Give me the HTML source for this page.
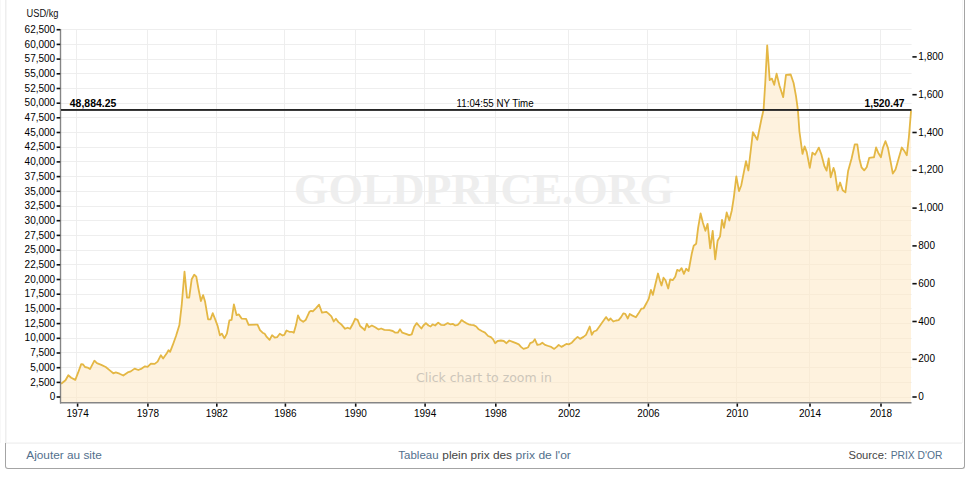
<!DOCTYPE html>
<html><head><meta charset="utf-8"><title>Gold price chart</title>
<style>
html,body{margin:0;padding:0;background:#fff;}
body{width:974px;height:478px;position:relative;overflow:hidden;font-family:"Liberation Sans",Arial,sans-serif;}
svg{position:absolute;left:0;top:0;}
.foot{position:absolute;left:5px;top:443px;width:958px;height:25px;border:1px solid #a4a4a4;border-top:none;border-radius:0 0 3px 3px;}
</style></head><body>

<svg width="974" height="478" viewBox="0 0 974 478">
<rect x="0" y="0" width="1" height="443" fill="#f8f8f8"/>
<rect x="5" y="0" width="1.5" height="443" fill="#eeeeee"/>
<rect x="6" y="442.5" width="956" height="1.2" fill="#eeeeee"/>
<rect x="962" y="0" width="1" height="443" fill="#f6f6f6"/>
<rect x="964" y="0" width="1" height="466" fill="#a4a4a4"/>
<path d="M60.5 397.5H911.5 M60.5 382.5H911.5 M60.5 367.5H911.5 M60.5 352.5H911.5 M60.5 338.5H911.5 M60.5 323.5H911.5 M60.5 308.5H911.5 M60.5 294.5H911.5 M60.5 279.5H911.5 M60.5 264.5H911.5 M60.5 250.5H911.5 M60.5 235.5H911.5 M60.5 220.5H911.5 M60.5 206.5H911.5 M60.5 191.5H911.5 M60.5 176.5H911.5 M60.5 161.5H911.5 M60.5 147.5H911.5 M60.5 132.5H911.5 M60.5 117.5H911.5 M60.5 103.5H911.5 M60.5 88.5H911.5 M60.5 73.5H911.5 M60.5 59.5H911.5 M60.5 44.5H911.5 M60.5 29.5H911.5 M76.5 29.5V402.5 M147.5 29.5V402.5 M216.5 29.5V402.5 M284.5 29.5V402.5 M355.5 29.5V402.5 M424.5 29.5V402.5 M495.5 29.5V402.5 M568.5 29.5V402.5 M647.5 29.5V402.5 M736.5 29.5V402.5 M809.5 29.5V402.5 M880.5 29.5V402.5" stroke="#f0f0f0" stroke-width="1" fill="none"/>
<text x="294" y="204" font-family="Liberation Serif, serif" font-weight="bold" font-size="44.5" fill="#eeeeee" textLength="380" lengthAdjust="spacingAndGlyphs">GOLDPRICE.ORG</text>
<path d="M60.5 397.5H911.5 M60.5 382.5H911.5 M60.5 367.5H911.5 M60.5 352.5H911.5 M60.5 338.5H911.5 M60.5 323.5H911.5 M60.5 308.5H911.5 M60.5 294.5H911.5 M60.5 279.5H911.5 M60.5 264.5H911.5 M60.5 250.5H911.5 M60.5 235.5H911.5 M60.5 220.5H911.5 M60.5 206.5H911.5 M60.5 191.5H911.5 M60.5 176.5H911.5 M60.5 161.5H911.5 M60.5 147.5H911.5 M60.5 132.5H911.5 M60.5 117.5H911.5 M60.5 103.5H911.5 M60.5 88.5H911.5 M60.5 73.5H911.5 M60.5 59.5H911.5 M60.5 44.5H911.5 M60.5 29.5H911.5 M76.5 29.5V402.5 M147.5 29.5V402.5 M216.5 29.5V402.5 M284.5 29.5V402.5 M355.5 29.5V402.5 M424.5 29.5V402.5 M495.5 29.5V402.5 M568.5 29.5V402.5 M647.5 29.5V402.5 M736.5 29.5V402.5 M809.5 29.5V402.5 M880.5 29.5V402.5" stroke="#ececec" stroke-width="1" fill="none" opacity="0.6"/>
<polygon points="61.0,402.5 61.0,383.5 61.8,383.3 65.5,380.2 68.3,375.2 71.2,377.7 75.3,379.9 78.1,372.7 81.2,364.1 83.1,364.5 85.0,367.0 87.5,367.6 90.0,369.1 94.4,360.7 96.9,363.2 101.3,364.9 105.7,367.0 109.5,370.1 113.3,373.3 115.8,372.4 119.5,373.7 123.3,375.5 127.7,372.4 130.8,371.4 134.6,368.6 138.3,370.0 141.7,368.6 145.0,366.3 147.6,366.9 150.9,363.6 154.7,363.9 157.6,361.6 160.9,355.2 163.1,358.6 166.8,353.2 168.5,350.2 170.1,351.9 172.7,345.2 176.0,336.0 179.4,325.1 181.7,305.2 184.5,271.7 187.0,297.7 189.2,297.7 191.7,279.2 194.2,274.7 196.3,276.7 198.4,288.5 200.9,301.0 203.1,295.1 205.1,301.8 208.1,319.4 210.5,319.4 212.7,313.2 215.2,319.4 217.7,326.1 219.9,335.3 221.9,333.6 224.4,338.3 226.9,333.6 229.4,320.3 231.6,319.9 233.9,304.4 236.6,315.2 238.9,314.4 241.6,318.6 246.1,318.9 248.6,324.9 257.5,324.6 260.0,330.2 262.6,332.7 264.7,333.8 266.7,336.9 269.6,339.9 272.1,335.2 274.8,337.7 277.1,337.2 279.8,333.8 282.6,335.5 284.3,334.9 286.5,330.5 289.3,331.8 291.8,331.8 293.8,332.7 296.0,325.1 298.0,315.4 300.2,319.8 303.2,321.8 305.6,320.1 309.4,311.8 311.1,310.9 312.8,311.4 315.8,308.4 319.1,304.7 322.0,312.6 326.2,311.8 328.3,313.4 331.4,316.4 333.7,321.5 335.9,318.8 338.4,322.1 341.7,324.8 345.1,328.8 347.6,327.7 350.1,328.8 352.6,324.3 355.1,318.8 357.6,319.8 360.1,326.0 362.7,328.2 364.7,330.2 366.8,323.8 368.8,327.2 371.9,325.5 375.2,327.2 378.6,329.5 381.1,328.5 384.4,329.8 389.4,330.2 392.8,331.0 395.3,332.7 397.8,332.7 400.0,329.3 402.3,332.7 405.9,333.8 409.2,335.2 411.7,334.4 414.2,326.8 416.7,323.1 419.2,326.0 421.4,328.5 423.4,325.5 425.9,323.1 428.5,325.5 430.6,326.5 432.6,324.3 435.1,325.5 438.2,322.6 441.0,324.8 444.4,325.1 447.7,323.1 450.2,324.3 452.7,323.8 455.2,325.5 457.7,324.8 459.9,322.6 461.6,320.1 463.6,321.5 466.1,323.1 468.6,324.3 471.1,324.8 473.6,325.1 476.2,326.5 478.7,329.3 481.7,331.0 485.0,332.6 488.1,336.0 490.9,337.2 493.1,339.3 495.1,343.2 497.6,341.0 500.9,340.5 503.8,341.0 506.5,343.2 509.3,340.5 512.7,341.8 516.0,343.2 518.8,344.4 521.0,346.9 523.5,348.9 526.0,348.2 528.2,347.2 530.2,343.2 532.7,342.2 534.9,339.3 537.3,344.9 539.9,344.4 542.3,342.7 545.0,344.9 548.3,346.0 551.2,346.9 554.2,348.9 556.7,346.9 558.7,344.9 561.4,346.9 563.7,345.6 566.4,343.9 568.7,344.4 571.8,342.7 574.8,339.4 577.6,336.9 580.1,338.9 583.5,336.9 586.0,334.9 587.7,331.0 589.7,326.5 591.8,334.9 593.8,331.5 596.5,330.5 599.4,326.5 602.2,322.6 606.1,317.1 608.6,320.5 610.6,318.5 613.3,321.5 616.1,320.5 618.6,320.1 621.1,317.1 623.3,313.4 625.3,313.8 627.8,318.5 629.7,314.0 632.5,315.6 635.9,317.3 638.4,313.6 641.4,308.6 643.7,308.3 646.4,303.3 648.8,298.6 650.9,289.9 652.9,294.9 655.5,283.8 658.0,273.5 659.8,280.2 661.5,285.5 663.5,277.7 665.5,280.2 668.2,288.5 670.2,279.3 672.7,280.2 675.2,276.8 677.2,269.8 679.4,271.0 681.6,268.1 683.9,273.8 686.1,268.8 688.6,271.0 691.8,253.5 693.7,245.7 696.2,243.7 698.1,227.9 700.6,213.5 702.9,222.7 705.4,230.8 707.6,223.8 710.2,248.4 712.7,230.8 715.2,259.4 717.6,240.8 720.1,236.4 722.0,219.8 724.0,227.9 726.7,212.5 729.3,220.5 731.8,210.5 733.9,196.8 736.3,176.5 739.0,191.2 741.3,185.2 746.0,161.1 748.4,170.5 752.9,132.2 757.3,139.7 761.0,121.3 763.6,109.5 765.3,82.0 767.2,45.3 768.5,63.2 769.7,80.1 771.9,78.6 774.2,84.8 776.6,73.6 779.5,85.8 783.2,97.1 786.0,74.9 790.7,74.5 793.6,83.0 796.0,96.1 797.9,110.2 799.4,131.3 802.5,153.9 804.6,146.4 806.7,151.8 809.8,167.9 812.4,152.7 815.1,154.7 818.8,147.6 821.3,154.3 824.5,166.4 826.6,170.6 828.7,158.5 830.7,177.3 833.5,167.9 834.9,172.1 837.6,190.3 840.1,182.5 842.7,190.3 845.4,192.4 848.1,171.0 851.6,158.5 854.8,144.3 857.3,144.3 859.4,159.0 861.5,167.3 864.2,170.4 866.7,167.3 869.2,157.9 872.6,157.3 874.0,157.3 876.1,147.5 878.2,152.7 880.9,157.3 883.0,147.5 885.5,141.2 888.0,148.1 890.7,162.1 892.8,173.6 895.5,169.4 898.5,159.0 901.8,147.5 904.7,151.6 906.8,155.2 908.9,137.0 911.0,111.5 911.0,402.5" fill="#fef2de"/>
<clipPath id="ac"><polygon points="61.0,402.5 61.0,383.5 61.8,383.3 65.5,380.2 68.3,375.2 71.2,377.7 75.3,379.9 78.1,372.7 81.2,364.1 83.1,364.5 85.0,367.0 87.5,367.6 90.0,369.1 94.4,360.7 96.9,363.2 101.3,364.9 105.7,367.0 109.5,370.1 113.3,373.3 115.8,372.4 119.5,373.7 123.3,375.5 127.7,372.4 130.8,371.4 134.6,368.6 138.3,370.0 141.7,368.6 145.0,366.3 147.6,366.9 150.9,363.6 154.7,363.9 157.6,361.6 160.9,355.2 163.1,358.6 166.8,353.2 168.5,350.2 170.1,351.9 172.7,345.2 176.0,336.0 179.4,325.1 181.7,305.2 184.5,271.7 187.0,297.7 189.2,297.7 191.7,279.2 194.2,274.7 196.3,276.7 198.4,288.5 200.9,301.0 203.1,295.1 205.1,301.8 208.1,319.4 210.5,319.4 212.7,313.2 215.2,319.4 217.7,326.1 219.9,335.3 221.9,333.6 224.4,338.3 226.9,333.6 229.4,320.3 231.6,319.9 233.9,304.4 236.6,315.2 238.9,314.4 241.6,318.6 246.1,318.9 248.6,324.9 257.5,324.6 260.0,330.2 262.6,332.7 264.7,333.8 266.7,336.9 269.6,339.9 272.1,335.2 274.8,337.7 277.1,337.2 279.8,333.8 282.6,335.5 284.3,334.9 286.5,330.5 289.3,331.8 291.8,331.8 293.8,332.7 296.0,325.1 298.0,315.4 300.2,319.8 303.2,321.8 305.6,320.1 309.4,311.8 311.1,310.9 312.8,311.4 315.8,308.4 319.1,304.7 322.0,312.6 326.2,311.8 328.3,313.4 331.4,316.4 333.7,321.5 335.9,318.8 338.4,322.1 341.7,324.8 345.1,328.8 347.6,327.7 350.1,328.8 352.6,324.3 355.1,318.8 357.6,319.8 360.1,326.0 362.7,328.2 364.7,330.2 366.8,323.8 368.8,327.2 371.9,325.5 375.2,327.2 378.6,329.5 381.1,328.5 384.4,329.8 389.4,330.2 392.8,331.0 395.3,332.7 397.8,332.7 400.0,329.3 402.3,332.7 405.9,333.8 409.2,335.2 411.7,334.4 414.2,326.8 416.7,323.1 419.2,326.0 421.4,328.5 423.4,325.5 425.9,323.1 428.5,325.5 430.6,326.5 432.6,324.3 435.1,325.5 438.2,322.6 441.0,324.8 444.4,325.1 447.7,323.1 450.2,324.3 452.7,323.8 455.2,325.5 457.7,324.8 459.9,322.6 461.6,320.1 463.6,321.5 466.1,323.1 468.6,324.3 471.1,324.8 473.6,325.1 476.2,326.5 478.7,329.3 481.7,331.0 485.0,332.6 488.1,336.0 490.9,337.2 493.1,339.3 495.1,343.2 497.6,341.0 500.9,340.5 503.8,341.0 506.5,343.2 509.3,340.5 512.7,341.8 516.0,343.2 518.8,344.4 521.0,346.9 523.5,348.9 526.0,348.2 528.2,347.2 530.2,343.2 532.7,342.2 534.9,339.3 537.3,344.9 539.9,344.4 542.3,342.7 545.0,344.9 548.3,346.0 551.2,346.9 554.2,348.9 556.7,346.9 558.7,344.9 561.4,346.9 563.7,345.6 566.4,343.9 568.7,344.4 571.8,342.7 574.8,339.4 577.6,336.9 580.1,338.9 583.5,336.9 586.0,334.9 587.7,331.0 589.7,326.5 591.8,334.9 593.8,331.5 596.5,330.5 599.4,326.5 602.2,322.6 606.1,317.1 608.6,320.5 610.6,318.5 613.3,321.5 616.1,320.5 618.6,320.1 621.1,317.1 623.3,313.4 625.3,313.8 627.8,318.5 629.7,314.0 632.5,315.6 635.9,317.3 638.4,313.6 641.4,308.6 643.7,308.3 646.4,303.3 648.8,298.6 650.9,289.9 652.9,294.9 655.5,283.8 658.0,273.5 659.8,280.2 661.5,285.5 663.5,277.7 665.5,280.2 668.2,288.5 670.2,279.3 672.7,280.2 675.2,276.8 677.2,269.8 679.4,271.0 681.6,268.1 683.9,273.8 686.1,268.8 688.6,271.0 691.8,253.5 693.7,245.7 696.2,243.7 698.1,227.9 700.6,213.5 702.9,222.7 705.4,230.8 707.6,223.8 710.2,248.4 712.7,230.8 715.2,259.4 717.6,240.8 720.1,236.4 722.0,219.8 724.0,227.9 726.7,212.5 729.3,220.5 731.8,210.5 733.9,196.8 736.3,176.5 739.0,191.2 741.3,185.2 746.0,161.1 748.4,170.5 752.9,132.2 757.3,139.7 761.0,121.3 763.6,109.5 765.3,82.0 767.2,45.3 768.5,63.2 769.7,80.1 771.9,78.6 774.2,84.8 776.6,73.6 779.5,85.8 783.2,97.1 786.0,74.9 790.7,74.5 793.6,83.0 796.0,96.1 797.9,110.2 799.4,131.3 802.5,153.9 804.6,146.4 806.7,151.8 809.8,167.9 812.4,152.7 815.1,154.7 818.8,147.6 821.3,154.3 824.5,166.4 826.6,170.6 828.7,158.5 830.7,177.3 833.5,167.9 834.9,172.1 837.6,190.3 840.1,182.5 842.7,190.3 845.4,192.4 848.1,171.0 851.6,158.5 854.8,144.3 857.3,144.3 859.4,159.0 861.5,167.3 864.2,170.4 866.7,167.3 869.2,157.9 872.6,157.3 874.0,157.3 876.1,147.5 878.2,152.7 880.9,157.3 883.0,147.5 885.5,141.2 888.0,148.1 890.7,162.1 892.8,173.6 895.5,169.4 898.5,159.0 901.8,147.5 904.7,151.6 906.8,155.2 908.9,137.0 911.0,111.5 911.0,402.5"/></clipPath>
<path d="M60.5 397.5H911.5 M60.5 382.5H911.5 M60.5 367.5H911.5 M60.5 352.5H911.5 M60.5 338.5H911.5 M60.5 323.5H911.5 M60.5 308.5H911.5 M60.5 294.5H911.5 M60.5 279.5H911.5 M60.5 264.5H911.5 M60.5 250.5H911.5 M60.5 235.5H911.5 M60.5 220.5H911.5 M60.5 206.5H911.5 M60.5 191.5H911.5 M60.5 176.5H911.5 M60.5 161.5H911.5 M60.5 147.5H911.5 M60.5 132.5H911.5 M60.5 117.5H911.5 M60.5 103.5H911.5 M60.5 88.5H911.5 M60.5 73.5H911.5 M60.5 59.5H911.5 M60.5 44.5H911.5 M60.5 29.5H911.5 M76.5 29.5V402.5 M147.5 29.5V402.5 M216.5 29.5V402.5 M284.5 29.5V402.5 M355.5 29.5V402.5 M424.5 29.5V402.5 M495.5 29.5V402.5 M568.5 29.5V402.5 M647.5 29.5V402.5 M736.5 29.5V402.5 M809.5 29.5V402.5 M880.5 29.5V402.5" stroke="#f8ebd6" stroke-width="1" fill="none" clip-path="url(#ac)"/>
<text x="416" y="382" font-family="DejaVu Sans, sans-serif" font-size="12.5" fill="#cdc6ba" textLength="136" lengthAdjust="spacingAndGlyphs">Click chart to zoom in</text>
<polyline points="61.0,383.5 61.8,383.3 65.5,380.2 68.3,375.2 71.2,377.7 75.3,379.9 78.1,372.7 81.2,364.1 83.1,364.5 85.0,367.0 87.5,367.6 90.0,369.1 94.4,360.7 96.9,363.2 101.3,364.9 105.7,367.0 109.5,370.1 113.3,373.3 115.8,372.4 119.5,373.7 123.3,375.5 127.7,372.4 130.8,371.4 134.6,368.6 138.3,370.0 141.7,368.6 145.0,366.3 147.6,366.9 150.9,363.6 154.7,363.9 157.6,361.6 160.9,355.2 163.1,358.6 166.8,353.2 168.5,350.2 170.1,351.9 172.7,345.2 176.0,336.0 179.4,325.1 181.7,305.2 184.5,271.7 187.0,297.7 189.2,297.7 191.7,279.2 194.2,274.7 196.3,276.7 198.4,288.5 200.9,301.0 203.1,295.1 205.1,301.8 208.1,319.4 210.5,319.4 212.7,313.2 215.2,319.4 217.7,326.1 219.9,335.3 221.9,333.6 224.4,338.3 226.9,333.6 229.4,320.3 231.6,319.9 233.9,304.4 236.6,315.2 238.9,314.4 241.6,318.6 246.1,318.9 248.6,324.9 257.5,324.6 260.0,330.2 262.6,332.7 264.7,333.8 266.7,336.9 269.6,339.9 272.1,335.2 274.8,337.7 277.1,337.2 279.8,333.8 282.6,335.5 284.3,334.9 286.5,330.5 289.3,331.8 291.8,331.8 293.8,332.7 296.0,325.1 298.0,315.4 300.2,319.8 303.2,321.8 305.6,320.1 309.4,311.8 311.1,310.9 312.8,311.4 315.8,308.4 319.1,304.7 322.0,312.6 326.2,311.8 328.3,313.4 331.4,316.4 333.7,321.5 335.9,318.8 338.4,322.1 341.7,324.8 345.1,328.8 347.6,327.7 350.1,328.8 352.6,324.3 355.1,318.8 357.6,319.8 360.1,326.0 362.7,328.2 364.7,330.2 366.8,323.8 368.8,327.2 371.9,325.5 375.2,327.2 378.6,329.5 381.1,328.5 384.4,329.8 389.4,330.2 392.8,331.0 395.3,332.7 397.8,332.7 400.0,329.3 402.3,332.7 405.9,333.8 409.2,335.2 411.7,334.4 414.2,326.8 416.7,323.1 419.2,326.0 421.4,328.5 423.4,325.5 425.9,323.1 428.5,325.5 430.6,326.5 432.6,324.3 435.1,325.5 438.2,322.6 441.0,324.8 444.4,325.1 447.7,323.1 450.2,324.3 452.7,323.8 455.2,325.5 457.7,324.8 459.9,322.6 461.6,320.1 463.6,321.5 466.1,323.1 468.6,324.3 471.1,324.8 473.6,325.1 476.2,326.5 478.7,329.3 481.7,331.0 485.0,332.6 488.1,336.0 490.9,337.2 493.1,339.3 495.1,343.2 497.6,341.0 500.9,340.5 503.8,341.0 506.5,343.2 509.3,340.5 512.7,341.8 516.0,343.2 518.8,344.4 521.0,346.9 523.5,348.9 526.0,348.2 528.2,347.2 530.2,343.2 532.7,342.2 534.9,339.3 537.3,344.9 539.9,344.4 542.3,342.7 545.0,344.9 548.3,346.0 551.2,346.9 554.2,348.9 556.7,346.9 558.7,344.9 561.4,346.9 563.7,345.6 566.4,343.9 568.7,344.4 571.8,342.7 574.8,339.4 577.6,336.9 580.1,338.9 583.5,336.9 586.0,334.9 587.7,331.0 589.7,326.5 591.8,334.9 593.8,331.5 596.5,330.5 599.4,326.5 602.2,322.6 606.1,317.1 608.6,320.5 610.6,318.5 613.3,321.5 616.1,320.5 618.6,320.1 621.1,317.1 623.3,313.4 625.3,313.8 627.8,318.5 629.7,314.0 632.5,315.6 635.9,317.3 638.4,313.6 641.4,308.6 643.7,308.3 646.4,303.3 648.8,298.6 650.9,289.9 652.9,294.9 655.5,283.8 658.0,273.5 659.8,280.2 661.5,285.5 663.5,277.7 665.5,280.2 668.2,288.5 670.2,279.3 672.7,280.2 675.2,276.8 677.2,269.8 679.4,271.0 681.6,268.1 683.9,273.8 686.1,268.8 688.6,271.0 691.8,253.5 693.7,245.7 696.2,243.7 698.1,227.9 700.6,213.5 702.9,222.7 705.4,230.8 707.6,223.8 710.2,248.4 712.7,230.8 715.2,259.4 717.6,240.8 720.1,236.4 722.0,219.8 724.0,227.9 726.7,212.5 729.3,220.5 731.8,210.5 733.9,196.8 736.3,176.5 739.0,191.2 741.3,185.2 746.0,161.1 748.4,170.5 752.9,132.2 757.3,139.7 761.0,121.3 763.6,109.5 765.3,82.0 767.2,45.3 768.5,63.2 769.7,80.1 771.9,78.6 774.2,84.8 776.6,73.6 779.5,85.8 783.2,97.1 786.0,74.9 790.7,74.5 793.6,83.0 796.0,96.1 797.9,110.2 799.4,131.3 802.5,153.9 804.6,146.4 806.7,151.8 809.8,167.9 812.4,152.7 815.1,154.7 818.8,147.6 821.3,154.3 824.5,166.4 826.6,170.6 828.7,158.5 830.7,177.3 833.5,167.9 834.9,172.1 837.6,190.3 840.1,182.5 842.7,190.3 845.4,192.4 848.1,171.0 851.6,158.5 854.8,144.3 857.3,144.3 859.4,159.0 861.5,167.3 864.2,170.4 866.7,167.3 869.2,157.9 872.6,157.3 874.0,157.3 876.1,147.5 878.2,152.7 880.9,157.3 883.0,147.5 885.5,141.2 888.0,148.1 890.7,162.1 892.8,173.6 895.5,169.4 898.5,159.0 901.8,147.5 904.7,151.6 906.8,155.2 908.9,137.0 911.0,111.5" fill="none" stroke="#e4b744" stroke-width="1.8" stroke-linejoin="round" stroke-linecap="round"/>
<rect x="59.8" y="29.0" width="1.4" height="374.5" fill="#858585"/>
<rect x="60" y="402" width="851.5" height="1.5" fill="#858585"/>
<g font-family="Liberation Sans, Arial, sans-serif" font-size="10" fill="#000"><rect x="56.6" y="396.2" width="3.6" height="1.6" fill="#111"/><text x="55.2" y="400.25" text-anchor="end">0</text><rect x="56.6" y="381.6" width="3.6" height="1.6" fill="#111"/><text x="55.2" y="385.56" text-anchor="end">2,500</text><rect x="56.6" y="366.9" width="3.6" height="1.6" fill="#111"/><text x="55.2" y="370.86" text-anchor="end">5,000</text><rect x="56.6" y="352.2" width="3.6" height="1.6" fill="#111"/><text x="55.2" y="356.17" text-anchor="end">7,500</text><rect x="56.6" y="337.5" width="3.6" height="1.6" fill="#111"/><text x="55.2" y="341.47" text-anchor="end">10,000</text><rect x="56.6" y="322.8" width="3.6" height="1.6" fill="#111"/><text x="55.2" y="326.78" text-anchor="end">12,500</text><rect x="56.6" y="308.1" width="3.6" height="1.6" fill="#111"/><text x="55.2" y="312.08" text-anchor="end">15,000</text><rect x="56.6" y="293.4" width="3.6" height="1.6" fill="#111"/><text x="55.2" y="297.38" text-anchor="end">17,500</text><rect x="56.6" y="278.7" width="3.6" height="1.6" fill="#111"/><text x="55.2" y="282.69" text-anchor="end">20,000</text><rect x="56.6" y="264.0" width="3.6" height="1.6" fill="#111"/><text x="55.2" y="268.00" text-anchor="end">22,500</text><rect x="56.6" y="249.3" width="3.6" height="1.6" fill="#111"/><text x="55.2" y="253.30" text-anchor="end">25,000</text><rect x="56.6" y="234.6" width="3.6" height="1.6" fill="#111"/><text x="55.2" y="238.60" text-anchor="end">27,500</text><rect x="56.6" y="219.9" width="3.6" height="1.6" fill="#111"/><text x="55.2" y="223.91" text-anchor="end">30,000</text><rect x="56.6" y="205.2" width="3.6" height="1.6" fill="#111"/><text x="55.2" y="209.22" text-anchor="end">32,500</text><rect x="56.6" y="190.5" width="3.6" height="1.6" fill="#111"/><text x="55.2" y="194.52" text-anchor="end">35,000</text><rect x="56.6" y="175.8" width="3.6" height="1.6" fill="#111"/><text x="55.2" y="179.82" text-anchor="end">37,500</text><rect x="56.6" y="161.1" width="3.6" height="1.6" fill="#111"/><text x="55.2" y="165.13" text-anchor="end">40,000</text><rect x="56.6" y="146.4" width="3.6" height="1.6" fill="#111"/><text x="55.2" y="150.44" text-anchor="end">42,500</text><rect x="56.6" y="131.7" width="3.6" height="1.6" fill="#111"/><text x="55.2" y="135.74" text-anchor="end">45,000</text><rect x="56.6" y="117.0" width="3.6" height="1.6" fill="#111"/><text x="55.2" y="121.05" text-anchor="end">47,500</text><rect x="56.6" y="102.4" width="3.6" height="1.6" fill="#111"/><text x="55.2" y="106.35" text-anchor="end">50,000</text><rect x="56.6" y="87.7" width="3.6" height="1.6" fill="#111"/><text x="55.2" y="91.65" text-anchor="end">52,500</text><rect x="56.6" y="73.0" width="3.6" height="1.6" fill="#111"/><text x="55.2" y="76.96" text-anchor="end">55,000</text><rect x="56.6" y="58.3" width="3.6" height="1.6" fill="#111"/><text x="55.2" y="62.27" text-anchor="end">57,500</text><rect x="56.6" y="43.6" width="3.6" height="1.6" fill="#111"/><text x="55.2" y="47.57" text-anchor="end">60,000</text><rect x="56.6" y="28.9" width="3.6" height="1.6" fill="#111"/><text x="55.2" y="32.88" text-anchor="end">62,500</text><rect x="912.4" y="396.2" width="4.3" height="1.6" fill="#111"/><text x="918.3" y="400.25">0</text><rect x="912.4" y="358.5" width="4.3" height="1.6" fill="#111"/><text x="918.3" y="362.45">200</text><rect x="912.4" y="320.7" width="4.3" height="1.6" fill="#111"/><text x="918.3" y="324.66">400</text><rect x="912.4" y="282.9" width="4.3" height="1.6" fill="#111"/><text x="918.3" y="286.86">600</text><rect x="912.4" y="245.1" width="4.3" height="1.6" fill="#111"/><text x="918.3" y="249.06">800</text><rect x="912.4" y="207.3" width="4.3" height="1.6" fill="#111"/><text x="918.3" y="211.27">1,000</text><rect x="912.4" y="169.5" width="4.3" height="1.6" fill="#111"/><text x="918.3" y="173.47">1,200</text><rect x="912.4" y="131.7" width="4.3" height="1.6" fill="#111"/><text x="918.3" y="135.68">1,400</text><rect x="912.4" y="93.9" width="4.3" height="1.6" fill="#111"/><text x="918.3" y="97.88">1,600</text><rect x="912.4" y="56.1" width="4.3" height="1.6" fill="#111"/><text x="918.3" y="60.08">1,800</text><rect x="76.8" y="403.5" width="1.6" height="3.2" fill="#111"/><text x="77.6" y="417" text-anchor="middle">1974</text><rect x="147.1" y="403.5" width="1.6" height="3.2" fill="#111"/><text x="147.9" y="417" text-anchor="middle">1978</text><rect x="216.0" y="403.5" width="1.6" height="3.2" fill="#111"/><text x="216.8" y="417" text-anchor="middle">1982</text><rect x="284.6" y="403.5" width="1.6" height="3.2" fill="#111"/><text x="285.4" y="417" text-anchor="middle">1986</text><rect x="354.9" y="403.5" width="1.6" height="3.2" fill="#111"/><text x="355.7" y="417" text-anchor="middle">1990</text><rect x="424.3" y="403.5" width="1.6" height="3.2" fill="#111"/><text x="425.1" y="417" text-anchor="middle">1994</text><rect x="495.0" y="403.5" width="1.6" height="3.2" fill="#111"/><text x="495.8" y="417" text-anchor="middle">1998</text><rect x="568.4" y="403.5" width="1.6" height="3.2" fill="#111"/><text x="569.2" y="417" text-anchor="middle">2002</text><rect x="647.6" y="403.5" width="1.6" height="3.2" fill="#111"/><text x="648.4" y="417" text-anchor="middle">2006</text><rect x="736.5" y="403.5" width="1.6" height="3.2" fill="#111"/><text x="737.3" y="417" text-anchor="middle">2010</text><rect x="809.2" y="403.5" width="1.6" height="3.2" fill="#111"/><text x="810.0" y="417" text-anchor="middle">2014</text><rect x="880.2" y="403.5" width="1.6" height="3.2" fill="#111"/><text x="881.0" y="417" text-anchor="middle">2018</text></g>
<text x="26.5" y="16.8" font-family="Liberation Sans, Arial, sans-serif" font-size="10" fill="#111" textLength="32" lengthAdjust="spacingAndGlyphs">USD/kg</text>
<rect x="61" y="109" width="850.5" height="1.9" fill="#262626"/>
<g font-family="Liberation Sans, Arial, sans-serif" font-size="10" fill="#000">
<text x="69.8" y="107.2" font-weight="bold" textLength="46.5" lengthAdjust="spacingAndGlyphs">48,884.25</text>
<text x="456.6" y="107" textLength="77" lengthAdjust="spacingAndGlyphs">11:04:55 NY Time</text>
<text x="864.6" y="107.2" font-weight="bold" textLength="40" lengthAdjust="spacingAndGlyphs">1,520.47</text>
</g>
<g font-family="Liberation Sans, Arial, sans-serif" font-size="11.5">
<text x="26.3" y="459" fill="#52708d" textLength="75.5" lengthAdjust="spacingAndGlyphs">Ajouter au site</text>
<text x="398.3" y="459" fill="#52708d" textLength="40.3" lengthAdjust="spacingAndGlyphs">Tableau</text>
<text x="442.3" y="459" fill="#444" textLength="69.7" lengthAdjust="spacingAndGlyphs">plein prix des</text>
<text x="515.6" y="459" fill="#52708d" textLength="55.3" lengthAdjust="spacingAndGlyphs">prix de l&#39;or</text>
<text x="848.4" y="459" fill="#444" textLength="38.7" lengthAdjust="spacingAndGlyphs">Source:</text>
<text x="890.7" y="459" fill="#52708d" textLength="51.8" lengthAdjust="spacingAndGlyphs">PRIX D&#39;OR</text>
</g>
</svg>
<div class="foot"></div>
</body></html>
